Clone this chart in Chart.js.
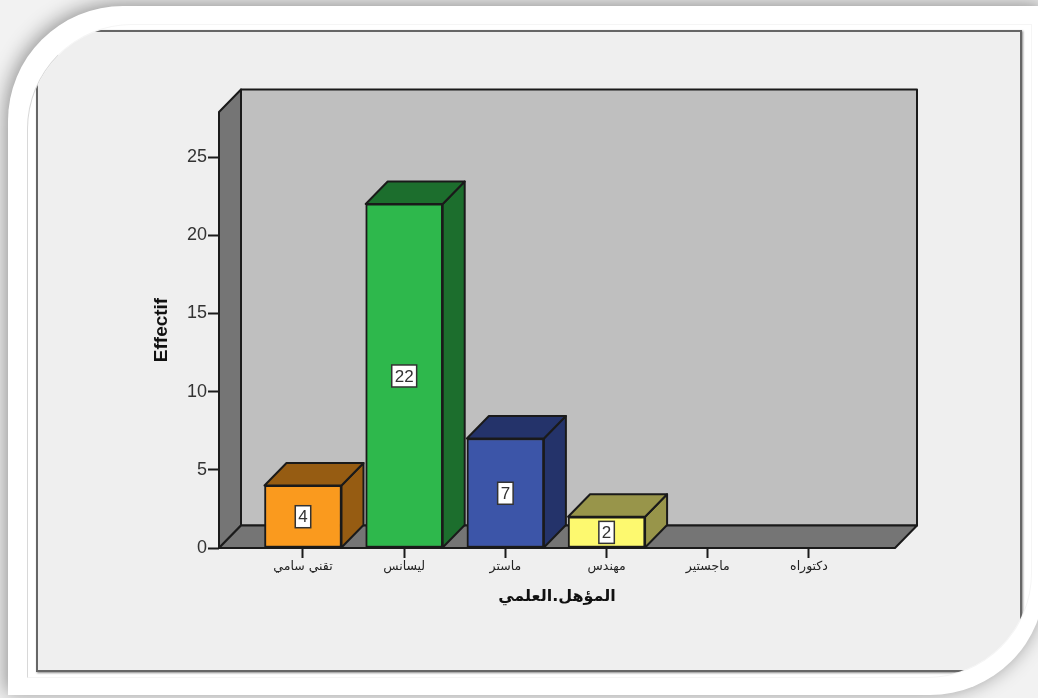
<!DOCTYPE html>
<html>
<head>
<meta charset="utf-8">
<title>المؤهل.العلمي</title>
<script src="https://cdn.jsdelivr.net/npm/chart.js@4"></script>
<style>
    html, body { margin: 0; padding: 0; width: 1038px; height: 698px; overflow: hidden; background: #f2f2f2; }
    .outer {
        position: absolute; left: 8px; top: 6px; width: 1037px; height: 689px;
        background: #fff; border-radius: 115px 0 115px 0;
        box-shadow: -2px -2px 20px rgba(0, 0, 0, 0.42);
    }
    .clip {
        position: absolute; left: 27px; top: 24px; width: 1003px; height: 652px;
        border: 1px solid #f5f5f5; border-left-color: #d8d8d8; border-radius: 105px 0 105px 0; overflow: hidden;
    }
    .panel {
        position: absolute; left: 8px; top: 5px; width: 982px; height: 638px;
        background: #efefef; border: 2px solid #666;
        box-shadow: 1px 1px 2px #888;
    }
    canvas { position: absolute; left: 0; top: 0; }
</style>
</head>
<body>
<div class="outer"></div>
<div class="clip"><div class="panel"></div></div>
<canvas id="chart" width="1038" height="698"></canvas>
<script>
const categories = ['تقني سامي', 'ليسانس', 'ماستر', 'مهندس', 'ماجستير', 'دكتوراه'];
const counts = [4, 22, 7, 2, 0, 0];
const yTicks = [0, 5, 10, 15, 20, 25];
const frontColors = ['#fa9a1e', '#2eb84c', '#3c55a8', '#fdf96f', '#ccc', '#ccc'];
const sideColors = ['#965c12', '#1c6e2d', '#24336a', '#98954a', '#888', '#888'];

const lineColor = '#1a1a1a';
const depthX = 22;
const depthY = 22.5;

function poly(ctx, pts, fill) {
    ctx.beginPath();
    pts.forEach((p, i) => i ? ctx.lineTo(p[0], p[1]) : ctx.moveTo(p[0], p[1]));
    ctx.closePath();
    ctx.fillStyle = fill;
    ctx.fill();
    ctx.lineWidth = 2;
    ctx.strokeStyle = lineColor;
    ctx.lineJoin = 'round';
    ctx.stroke();
}

// walls and floor of the 3d box, then the top and side of each bar
const box3d = {
    id: 'box3d',
    beforeDatasetsDraw(chart) {
        const ctx = chart.ctx;
        const a = chart.chartArea;
        ctx.save();
        poly(ctx, [[a.left + depthX, a.top - depthY], [a.right + depthX, a.top - depthY],
            [a.right + depthX, a.bottom - depthY], [a.left + depthX, a.bottom - depthY]], '#bfbfbf');
        poly(ctx, [[a.left, a.top], [a.left + depthX, a.top - depthY],
            [a.left + depthX, a.bottom - depthY], [a.left, a.bottom]], '#757575');
        poly(ctx, [[a.left, a.bottom], [a.left + depthX, a.bottom - depthY],
            [a.right + depthX, a.bottom - depthY], [a.right, a.bottom]], '#757575');
        chart.getDatasetMeta(0).data.forEach((bar, i) => {
            if (!counts[i]) return;
            const l = bar.x - bar.width / 2;
            const r = bar.x + bar.width / 2;
            poly(ctx, [[r, bar.y], [r + depthX, bar.y - depthY],
                [r + depthX, bar.base - depthY], [r, bar.base]], sideColors[i]);
            poly(ctx, [[l, bar.y], [l + depthX, bar.y - depthY],
                [r + depthX, bar.y - depthY], [r, bar.y]], sideColors[i]);
        });
        ctx.restore();
    },
    afterDatasetsDraw(chart) {
        const ctx = chart.ctx;
        const yScale = chart.scales.y;
        ctx.save();
        ctx.font = '17px "Liberation Sans"';
        ctx.textAlign = 'center';
        ctx.textBaseline = 'middle';
        chart.getDatasetMeta(0).data.forEach((bar, i) => {
            if (!counts[i]) return;
            const text = String(counts[i]);
            const cy = yScale.getPixelForValue(counts[i] / 2);
            const w = ctx.measureText(text).width + 6;
            ctx.fillStyle = '#fff';
            ctx.fillRect(bar.x - w / 2, cy - 11, w, 22);
            ctx.lineWidth = 1.5;
            ctx.strokeStyle = '#333';
            ctx.strokeRect(bar.x - w / 2, cy - 11, w, 22);
            ctx.fillStyle = '#333';
            ctx.fillText(text, bar.x, cy + 1);
        });
        ctx.restore();
    }
};

new Chart(document.getElementById('chart').getContext('2d'), {
    type: 'bar',
    data: {
        datasets: [{
            data: categories.map((c, i) => ({ x: i, y: counts[i] })),
            backgroundColor: frontColors,
            borderColor: lineColor,
            borderWidth: 2,
            borderSkipped: false,
            barThickness: 77
        }]
    },
    options: {
        responsive: false,
        animation: false,
        layout: { padding: { left: 150, right: 143, top: 112, bottom: 92 } },
        plugins: { legend: { display: false }, tooltip: { enabled: false } },
        scales: {
            x: {
                type: 'linear',
                offset: false,
                min: -0.83,
                max: 5.85,
                border: { display: false },
                grid: { offset: false, drawOnChartArea: false, tickLength: 10, tickWidth: 2, color: lineColor },
                afterBuildTicks(scale) {
                    scale.ticks = categories.map((c, i) => ({ value: i }));
                },
                afterFit(scale) { scale.height = 58; },
                ticks: {
                    callback: v => categories[v],
                    autoSkip: false,
                    maxRotation: 0,
                    padding: 1,
                    color: '#222',
                    font: { family: '"DejaVu Sans"', size: 12.5 }
                },
                title: {
                    display: true,
                    text: 'المؤهل.العلمي',
                    color: '#111',
                    padding: 0,
                    font: { family: '"DejaVu Sans"', size: 16, weight: 'bold' }
                }
            },
            y: {
                min: 0,
                max: 27.88,
                border: { display: false },
                grid: { drawOnChartArea: false, tickLength: 11, tickWidth: 2, color: lineColor },
                afterBuildTicks(scale) {
                    scale.ticks = yTicks.map(v => ({ value: v }));
                },
                afterFit(scale) { scale.width = 69; },
                ticks: {
                    padding: 1,
                    color: '#333',
                    font: { family: '"Liberation Sans"', size: 18 }
                },
                title: {
                    display: true,
                    text: 'Effectif',
                    color: '#111',
                    padding: 0,
                    font: { family: '"Liberation Sans"', size: 19, weight: 'bold' }
                }
            }
        }
    },
    plugins: [box3d]
});
</script>
</body>
</html>
